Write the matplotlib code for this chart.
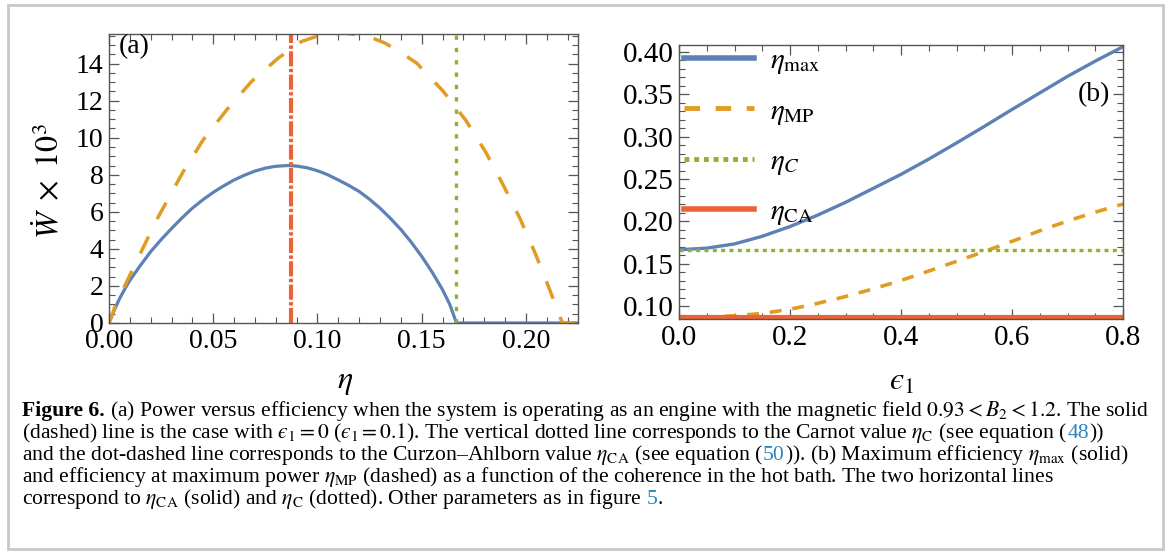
import matplotlib
matplotlib.use("Agg")
import matplotlib.pyplot as plt
from matplotlib.lines import Line2D
from matplotlib.patches import Rectangle
from matplotlib.ticker import MultipleLocator

plt.rcParams['font.family'] = ['Liberation Serif', 'DejaVu Serif']
plt.rcParams['mathtext.fontset'] = 'stix'

# panel (a): power vs efficiency
eta_e0 = [0, 0.0025, 0.005, 0.0075, 0.01, 0.015, 0.02, 0.025, 0.03, 0.035, 0.04, 0.045,
          0.05, 0.055, 0.06, 0.065, 0.07, 0.075, 0.08, 0.086, 0.09, 0.095, 0.10, 0.105,
          0.11, 0.115, 0.12, 0.125, 0.13, 0.135, 0.14, 0.145, 0.15, 0.155, 0.16, 0.1635,
          0.1667, 0.225]
W_e0 = [0, 0.68, 1.3, 1.82, 2.3, 3.1, 3.85, 4.5, 5.1, 5.67, 6.2, 6.65,
        7.05, 7.4, 7.72, 7.98, 8.2, 8.36, 8.46, 8.5, 8.47, 8.38, 8.22, 8.0,
        7.72, 7.43, 7.1, 6.68, 6.2, 5.65, 5.05, 4.36, 3.6, 2.75, 1.8, 1.0,
        0, 0]

eta_e1 = [0, 0.0029, 0.0109, 0.0229, 0.0357, 0.0452, 0.0565, 0.0684, 0.0812, 0.0924,
          0.102, 0.113, 0.1244, 0.1324, 0.1404, 0.1476, 0.154, 0.1601, 0.166, 0.1713,
          0.1807, 0.1892, 0.1972, 0.2044, 0.2111, 0.2175, 0.225]
W_e1 = [0, 0.9, 2.79, 5.58, 8.19, 9.89, 11.51, 13.04, 14.30, 15.2,
        15.56, 15.65, 15.47, 15.11, 14.57, 14.03, 13.26, 12.54, 11.69, 10.92,
        9.23, 7.43, 5.63, 3.78, 1.89, 0, 0]

eta_C = 0.1667
eta_CA = 0.0871

# panel (b): efficiencies vs coherence eps1
eps1 = [0, 0.05, 0.1, 0.15, 0.2, 0.25, 0.3, 0.35, 0.4, 0.45, 0.5, 0.55, 0.6,
        0.65, 0.7, 0.75, 0.8]
eta_max = [0.1667, 0.1685, 0.1735, 0.1825, 0.194, 0.2075, 0.2225, 0.239, 0.2555,
           0.2735, 0.2925, 0.312, 0.332, 0.3515, 0.371, 0.389, 0.406]
eta_MP = [0.0871, 0.0875, 0.0888, 0.0915, 0.0965, 0.1035, 0.1115, 0.1205, 0.1305,
          0.1415, 0.153, 0.1645, 0.1765, 0.189, 0.2005, 0.211, 0.2205]

blue = "#5E81B5"
orange = "#E19C24"
green = "#8FB032"
red = "#EB6235"
framec = "#555555"

W, H = 1167, 551
fig = plt.figure(figsize=(W / 100, H / 100), dpi=100)

def px_axes(l, t, r, b):
    return fig.add_axes([l / W, 1 - b / H, (r - l) / W, (b - t) / H])

def style(ax, fs):
    for s in ax.spines.values():
        s.set_color(framec)
        s.set_linewidth(1.0)
    ax.tick_params(which='both', direction='in', top=True, right=True,
                   colors=framec, labelcolor='black', labelsize=fs, pad=4)
    ax.tick_params(which='major', length=7, width=0.9)
    ax.tick_params(which='minor', length=4, width=0.8)

# ---- (a)
ax1 = px_axes(109, 34, 578, 323)
ax1.plot(eta_e0, W_e0, color=blue, lw=2.3)
ax1.plot(eta_e1, W_e1, color=orange, lw=2.5, dashes=(5.4, 5.6))
ax1.axvline(eta_CA, color=red, lw=3.0, dashes=(3.6, 0.6, 0.8, 0.6), dash_capstyle='butt')
ax1.axvline(eta_C, color=green, lw=2.4, dashes=(1.3, 2.4), dash_capstyle='butt')
ax1.set_xlim(0, 0.225)
ax1.set_ylim(0, 15.6)
ax1.xaxis.set_minor_locator(MultipleLocator(0.01))
ax1.yaxis.set_major_locator(MultipleLocator(2))
ax1.yaxis.set_minor_locator(MultipleLocator(0.5))
ax1.set_xticks([0, 0.05, 0.1, 0.15, 0.2])
ax1.set_xticklabels(["0.00", "0.05", "0.10", "0.15", "0.20"])
style(ax1, 20)
ax1.text(0.053, 0.955, "(a)", transform=ax1.transAxes, fontsize=20, ha='center', va='center')
ax1.text(0.503, -0.205, r"$\eta$", transform=ax1.transAxes, fontsize=23, ha='center', va='center')
ax1.text(-0.125, 0.49, r"$\dot{W}\ \times\ 10^3$", transform=ax1.transAxes, fontsize=23,
         ha='center', va='center', rotation=90)

# ---- (b)
ax2 = px_axes(679, 45, 1123, 319)
ax2.plot(eps1, eta_max, color=blue, lw=2.4)
ax2.plot(eps1, eta_MP, color=orange, lw=2.6, dashes=(3.3, 3.0))
ax2.axhline(eta_C, color=green, lw=2.4, dashes=(1.2, 1.3), dash_capstyle='butt')
ax2.axhline(eta_CA, color=red, lw=3.0)
ax2.set_xlim(0, 0.8)
ax2.set_ylim(0.085, 0.408)
ax2.xaxis.set_minor_locator(MultipleLocator(0.05))
ax2.yaxis.set_minor_locator(MultipleLocator(0.01))
ax2.set_yticks([0.10, 0.15, 0.20, 0.25, 0.30, 0.35, 0.40])
ax2.set_yticklabels(["0.10", "0.15", "0.20", "0.25", "0.30", "0.35", "0.40"])
ax2.set_xticks([0, 0.2, 0.4, 0.6, 0.8])
ax2.set_xticklabels(["0.0", "0.2", "0.4", "0.6", "0.8"])
style(ax2, 21)
handles = [Line2D([], [], color=blue, lw=4),
           Line2D([], [], color=orange, lw=3.5, dashes=(3.2, 3.2)),
           Line2D([], [], color=green, lw=3.5, dashes=(1.0, 1.0)),
           Line2D([], [], color=red, lw=4)]
labels = [r"$\eta_{\rm max}$", r"$\eta_{\rm MP}$", r"$\eta_C$", r"$\eta_{\rm CA}$"]
ax2.legend(handles, labels, loc='upper left', bbox_to_anchor=(0.005, 1.0), frameon=False,
           fontsize=21, handlelength=2.4, handletextpad=0.55, labelspacing=0.75,
           borderpad=0.1, borderaxespad=0)
ax2.text(0.935, 0.818, "(b)", transform=ax2.transAxes, fontsize=20, ha='center', va='center')
ax2.text(0.502, -0.23, "$ϵ_1$", transform=ax2.transAxes, fontsize=23, ha='center', va='center')

# ---- border
fig.patches.append(Rectangle((8 / W, 2 / H), 1155 / W, 544 / H, transform=fig.transFigure,
                             fill=False, edgecolor="#c8c8c8", lw=2))

# ---- caption
link = "#2a86c0"
SP = (" ", {})
lines = [
    [("Figure 6.", {'weight': 'bold'}), SP,
     ("(a) Power versus efficiency when the system is operating as an engine with the magnetic field "
      r"$0.93 < B_2 < 1.2$. The solid", {})],
    [(r"(dashed) line is the case with $ϵ_1 = 0$ ($ϵ_1 = 0.1$). The vertical dotted line "
      r"corresponds to the Carnot value $\eta_{\rm C}$ (see equation (", {}),
     ("48", {'color': link}), ("))", {})],
    [(r"and the dot-dashed line corresponds to the Curzon–Ahlborn value $\eta_{\rm CA}$ (see equation (", {}),
     ("50", {'color': link}),
     (r")). (b) Maximum efficiency $\eta_{\rm max}$ (solid)", {})],
    [(r"and efficiency at maximum power $\eta_{\rm MP}$ (dashed) as a function of the coherence in the "
      "hot bath. The two horizontal lines", {})],
    [(r"correspond to $\eta_{\rm CA}$ (solid) and $\eta_{\rm C}$ (dotted). Other parameters as in figure", {}),
     SP, ("5", {'color': link}), (".", {})],
]

renderer = fig.canvas.get_renderer()

def width_of(s, fs, kw):
    t = fig.text(0, 0, s, fontsize=fs, **kw)
    w = t.get_window_extent(renderer).width
    t.remove()
    return w

def space_w(fs):
    return width_of("a a", fs, {}) - width_of("aa", fs, {})

def line_width(pieces, fs):
    tot = 0
    for s, kw in pieces:
        tot += space_w(fs) if s == " " else width_of(s, fs, kw)
    return tot

x0, x1 = 22, 1150
fs = 14
fs = fs * (x1 - x0) / line_width(lines[0], fs)

base0, step = 416, 22
for i, pieces in enumerate(lines):
    x = x0
    y = base0 + i * step
    for s, kw in pieces:
        if s == " ":
            x += space_w(fs)
            continue
        t = fig.text(x / W, 1 - y / H, s, fontsize=fs, ha='left', va='baseline', **kw)
        x += t.get_window_extent(renderer).width

fig.savefig("out.png", dpi=100)
